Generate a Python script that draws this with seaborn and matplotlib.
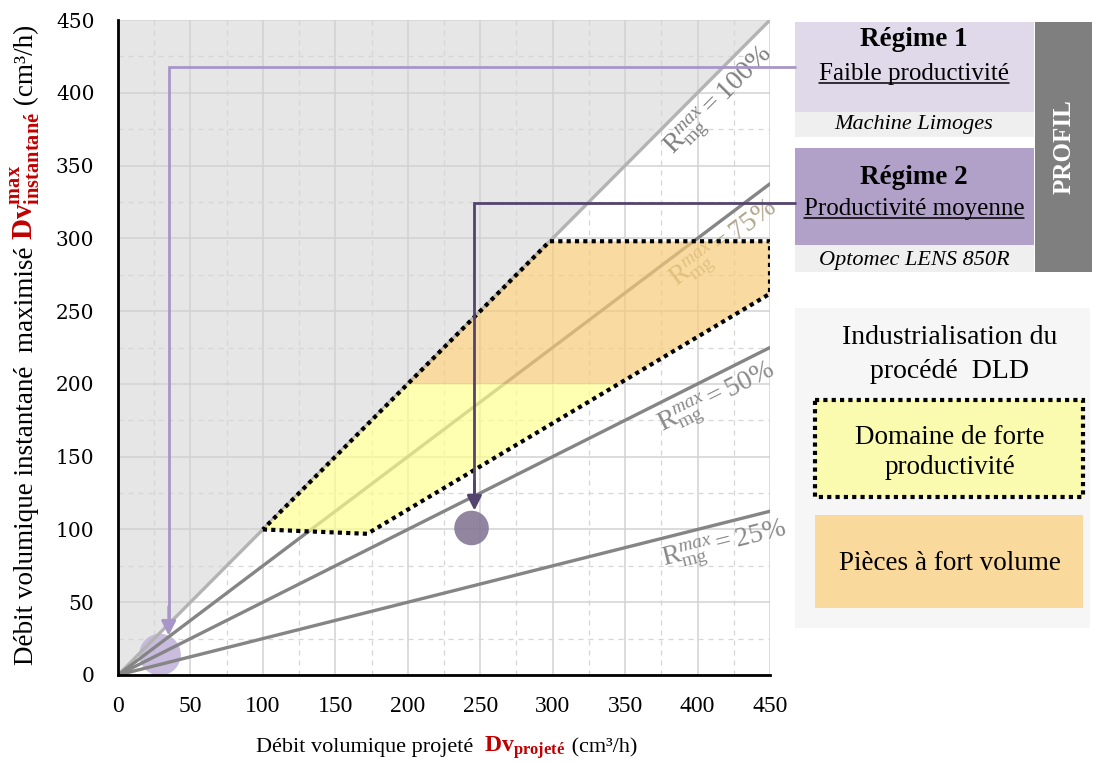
import numpy as np
import matplotlib
matplotlib.use("Agg")
import matplotlib.pyplot as plt
import seaborn as sns
from matplotlib.patches import Polygon, Rectangle
from matplotlib.transforms import IdentityTransform

# ---------------------------------------------------------------------------
# Data
# ---------------------------------------------------------------------------
RATIOS = [1.00, 0.75, 0.50, 0.25]
RATIO_TEXT = ["100", "75", "50", "25"]
LABEL_X = [416, 419, 414, 419]
LABEL_Y = [393, 295, 189, 88]

DOMAIN_X = [100, 172, 450, 450, 298]
DOMAIN_Y = [100, 97, 262, 298, 298]
VOLUME_SPLIT = 200

REGIME_NAMES = ["Régime 1", "Régime 2"]
REGIME_SUB = ["Faible productivité", "Productivité moyenne"]
MACHINES = ["Machine Limoges", "Optomec LENS 850R"]
REGIME_PROJ = [29, 244]
REGIME_INST = [14, 101]
ARROW_X = [35, 246]
ARROW_Y = [418, 324]
ARROW_TIP = [27, 113]

TICKS = np.arange(0, 451, 50)

# ---------------------------------------------------------------------------
# Style
# ---------------------------------------------------------------------------
sns.set_theme(style="white")
plt.rcParams["font.family"] = ["Liberation Serif", "DejaVu Serif"]
plt.rcParams["text.color"] = "black"
plt.rcParams["mathtext.fontset"] = "custom"
plt.rcParams["mathtext.rm"] = "Liberation Serif"
plt.rcParams["mathtext.it"] = "Liberation Serif:italic"
plt.rcParams["mathtext.bf"] = "Liberation Serif:bold"

W, H = 1094, 763
fig = plt.figure(figsize=(W / 100, H / 100), dpi=100)
pan = fig.add_axes([0, 0, 1, 1])
pan.set_xlim(0, W)
pan.set_ylim(H, 0)
pan.axis("off")

ax = fig.add_axes([118 / W, 1 - 675 / H, 652 / W, 655 / H])
ax.set_xlim(0, 450)
ax.set_ylim(0, 450)

xs = np.array([0, 450])
ax.fill_between(xs, xs, 450, color="#e6e6e6", zorder=0.2, lw=0)

ax.set_axisbelow(True)
ax.set_xticks(TICKS)
ax.set_yticks(TICKS)
ax.set_xticks(TICKS[:-1] + 25, minor=True)
ax.set_yticks(TICKS[:-1] + 25, minor=True)
ax.grid(which="major", color="#d2d2d2", lw=1.1)
ax.grid(which="minor", color="#d6d6d6", lw=0.9, ls=(0, (4, 4)))
for s in ["top", "right"]:
    ax.spines[s].set_visible(False)
for s in ["left", "bottom"]:
    ax.spines[s].set_linewidth(2)
    ax.spines[s].set_color("black")
ax.tick_params(which="major", direction="out", length=9, width=1.6, color="black",
               labelcolor="black")
ax.tick_params(which="minor", direction="out", length=5, width=1.6, color="black")
ax.tick_params(axis="y", which="major", pad=8, labelsize=14.5)
ax.tick_params(axis="x", which="major", pad=6, labelsize=17)
for lbl in ax.get_yticklabels():
    lbl.set_fontfamily("DejaVu Serif")

# circles for the two regimes
circ_colors = ["#c3b5dc", "#857896"]
circ_sizes = [900, 620]
for i in range(2):
    sns.scatterplot(x=[REGIME_PROJ[i]], y=[REGIME_INST[i]], s=circ_sizes[i],
                    color=circ_colors[i], edgecolor="none", alpha=0.9,
                    zorder=1.5, clip_on=False, ax=ax, legend=False)

# ratio lines
line_colors = ["#b3b3b3", "#858585", "#858585", "#858585"]
for r, c in zip(RATIOS, line_colors):
    sns.lineplot(x=xs, y=r * xs, color=c, lw=2.4, zorder=2, ax=ax)

label_colors = ["#808080", "#b0a58a", "#8a8a8a", "#8a8a8a"]
for r, t, lx, ly, c in zip(RATIOS, RATIO_TEXT, LABEL_X, LABEL_Y, label_colors):
    ax.text(lx, ly, r"$\mathrm{R}^{\mathit{max}}_{\mathrm{mg}} = " + t + r"\%$",
            rotation=np.degrees(np.arctan(r)), transform_rotates_text=True,
            rotation_mode="anchor", ha="center", va="center", color=c,
            fontsize=20, zorder=2.5)

# domaine de forte productivite
dom = list(zip(DOMAIN_X, DOMAIN_Y))
low = Polygon(dom, closed=True, facecolor="#ffff91", alpha=0.7, lw=0, zorder=3)
ax.add_patch(low)
low.set_clip_path(Rectangle((0, 0), 450, VOLUME_SPLIT, transform=ax.transData))
high = Polygon(dom, closed=True, facecolor="#f7cc7a", alpha=0.7, lw=0, zorder=3.1)
ax.add_patch(high)
high.set_clip_path(Rectangle((0, VOLUME_SPLIT), 450, 450 - VOLUME_SPLIT,
                             transform=ax.transData))
ax.add_patch(Polygon(dom, closed=True, fill=False, edgecolor="black", lw=3,
                     ls=(0, (1, 1)), zorder=4))

# arrows from the regime boxes
arrow_colors = ["#a896c8", "#54436f"]
x_box = (795 - 118) / 652 * 450
for i in range(2):
    ax.plot([x_box, ARROW_X[i], ARROW_X[i]], [ARROW_Y[i], ARROW_Y[i], ARROW_TIP[i] + 8],
            color=arrow_colors[i], lw=2, zorder=5, clip_on=False, solid_joinstyle="miter")
    ax.annotate("", xy=(ARROW_X[i], ARROW_TIP[i]), xytext=(ARROW_X[i], ARROW_TIP[i] + 20),
                arrowprops=dict(arrowstyle="-|>", color=arrow_colors[i], lw=2,
                                mutation_scale=22, shrinkA=0, shrinkB=0),
                zorder=5)

# ---------------------------------------------------------------------------
# Right-hand panel
# ---------------------------------------------------------------------------
def box(x0, y0, x1, y1, **kw):
    pan.add_patch(Rectangle((x0, y0), x1 - x0, y1 - y0, **kw))


box(795, 22, 1034, 112, facecolor="#e0d9e9", lw=0)
box(795, 112, 1034, 137, facecolor="#efefef", lw=0)
box(795, 148, 1034, 245, facecolor="#b1a1c9", lw=0)
box(795, 245, 1034, 272, facecolor="#efefef", lw=0)
box(1035, 22, 1092, 272, facecolor="#7f7f7f", lw=0)
pan.text(1064, 147, "PROFIL", rotation=90, ha="center", va="center",
         color="white", fontweight="bold", fontsize=18)

fig.canvas.draw()
renderer = fig.canvas.get_renderer()

regime_y = [(40, 73, 125), (177, 208, 260)]
for i in range(2):
    y_t, y_s, y_m = regime_y[i]
    pan.text(914, y_t, REGIME_NAMES[i], ha="center", va="center",
             fontweight="bold", fontsize=19.5)
    t = pan.text(914, y_s + 7, REGIME_SUB[i], ha="center", va="baseline", fontsize=18)
    bb = t.get_window_extent(renderer)
    pan.plot([bb.x0, bb.x1], [y_s + 9.5, y_s + 9.5], color="black", lw=1.1)
    pan.text(914, y_m, MACHINES[i], ha="center", va="center",
             fontstyle="italic", fontsize=16)

box(795, 308, 1090, 628, facecolor="#f6f6f6", lw=0)
pan.text(950, 338, "Industrialisation du", ha="center", va="center", fontsize=20)
pan.text(950, 372, "procédé  DLD", ha="center", va="center", fontsize=20)
box(815, 400, 1083, 497, facecolor="#fbfbb0", edgecolor="black", lw=3,
    ls=(0, (1, 1)))
pan.text(950, 437, "Domaine de forte", ha="center", va="center", fontsize=19.5)
pan.text(950, 468, "productivité", ha="center", va="center", fontsize=19.5)
box(815, 515, 1083, 608, facecolor="#f9da9c", lw=0)
pan.text(950, 564, "Pièces à fort volume", ha="center", va="center", fontsize=19.5)

# ---------------------------------------------------------------------------
# Axis titles built from coloured pieces
# ---------------------------------------------------------------------------
RED = "#c00000"


def chain(x, y, parts, rotation=0):
    for s, kw in parts:
        t = fig.text(x, y, s, transform=IdentityTransform(), rotation=rotation,
                     rotation_mode="anchor", ha="left", va="baseline", **kw)
        bb = t.get_window_extent(renderer)
        if rotation == 90:
            y += bb.height
        else:
            x += bb.width


chain(256, H - 752, [
    ("Débit volumique projeté  ", dict(fontsize=16)),
    (r"$\mathbf{Dv}_{\mathbf{projeté}}$", dict(fontsize=17, color=RED)),
    (" (cm³/h)", dict(fontsize=16)),
])
chain(33, H - 665, [
    ("Débit volumique instantané  maximisé ", dict(fontsize=19.5)),
    (r"$\mathbf{Dv}^{\mathbf{max}}_{\mathbf{instantané}}$", dict(fontsize=21, color=RED)),
    (" (cm³/h)", dict(fontsize=19.5)),
], rotation=90)

fig.savefig("out.png", dpi=100)
